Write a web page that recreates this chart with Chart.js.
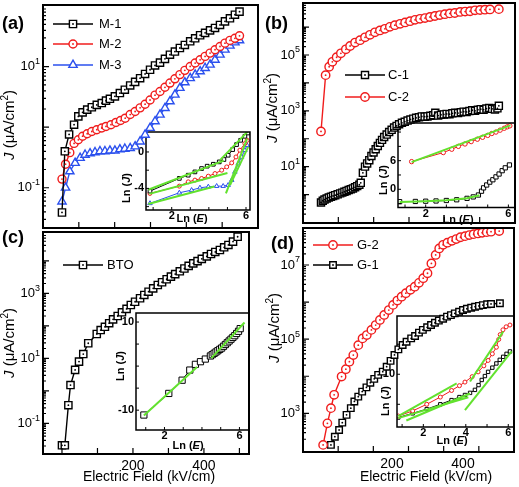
<!DOCTYPE html>
<html>
<head>
<meta charset="utf-8">
<script src="https://cdn.jsdelivr.net/npm/chart.js@4/dist/chart.umd.min.js"></script>
<style>
  html, body { margin: 0; padding: 0; background: #fff; }
  body { position: relative; width: 519px; height: 487px; overflow: hidden; }
  canvas { position: absolute; left: -20px; top: -20px; }
</style>
</head>
<body>
<script>
// ---------- panel (a) : J vs E, M-1 / M-2 / M-3 ----------
const fieldM1 = [0,8,20,34,46,58,71,84,98,112,124,135,149,163,177,192,206,220,234,248,262,276,290,304,318,332,346,361,375,389,403,417,431,445,459,473,487,500];
const jM1 = [0.039,0.40,0.76,1.10,1.51,1.76,1.95,2.14,2.34,2.51,2.75,2.95,3.24,3.67,4.17,4.90,5.62,6.46,7.59,8.91,10.5,11.7,13.5,15.8,17.8,20.4,22.9,26.3,29.5,33.1,36.3,39.8,43.7,49.0,56.2,63.1,72.4,81.3];
const fieldM2 = [0,10,22,34,46,58,71,84,98,112,124,138,152,165,178,192,206,220,234,248,262,276,290,304,318,332,346,361,375,389,403,417,431,445,459,473,487,500];
const jM2 = [0.139,0.245,0.38,0.54,0.62,0.71,0.78,0.85,0.91,0.97,1.03,1.10,1.20,1.29,1.41,1.62,1.82,2.09,2.40,2.82,3.39,3.89,4.57,5.37,6.31,7.41,8.71,10.1,11.5,13.0,14.8,16.8,19.1,21.6,24.5,27.2,29.5,32.4];
const fieldM3 = [0,10,22,37,51,65,79,93,107,121,135,149,163,177,192,206,220,234,248,262,276,290,304,318,332,346,361,375,389,403,417,431,445,459,473,487,500];
const jM3 = [0.059,0.10,0.186,0.257,0.31,0.35,0.37,0.385,0.40,0.40,0.41,0.41,0.43,0.44,0.45,0.48,0.58,0.75,0.97,1.25,1.61,2.07,2.67,3.45,4.46,5.50,6.46,7.36,8.37,9.5,10.8,13.0,15.8,19.1,22.2,25.2,27.2];

// ---------- panel (b) : C-1 / C-2 ----------
const fieldC1 = [0,5,10,16,22,28,34,40,47,54,60,66,72,78,84,90,96,102,108,112,118,124,130,136,142,148,154,160,166,172,178,185,192,199,206,213,220,228,236,244,252,260,268,276,284,292,300,308,316,322,330,338,346,354,362,370,378,386,394,402,410,418,426,434,442,450,458,466,474,482,490,497,501];
const jC1 = [0.52,0.60,0.66,0.72,0.78,0.83,0.89,0.95,1.02,1.10,1.17,1.26,1.35,1.45,1.55,1.66,1.82,2.0,2.24,2.63,6.0,10,13,17,24,32,42,55,71,91,115,141,174,209,251,288,331,372,407,447,490,525,562,589,631,617,631,661,692,851,676,724,741,776,759,813,851,832,891,933,912,977,1047,1000,1096,1148,1096,1202,1259,1175,1122,1230,1514];
const fieldC2 = [0,13,23,32,44,56,70,82,96,110,124,138,152,166,180,194,208,223,237,251,265,279,293,307,321,335,349,363,377,392,406,420,434,448,462,476,501];
const jC2 = [182,1.9e4,3.8e4,5.7e4,8.3e4,1.15e5,1.6e5,2.1e5,2.8e5,3.4e5,4.3e5,5.3e5,6.5e5,7.6e5,8.7e5,1.02e6,1.17e6,1.31e6,1.47e6,1.63e6,1.82e6,1.98e6,2.1e6,2.3e6,2.5e6,2.7e6,2.9e6,3.1e6,3.2e6,3.5e6,3.6e6,3.7e6,4.0e6,4.1e6,4.2e6,4.3e6,4.4e6];

// ---------- panel (c) : BTO ----------
const fieldBTO = [0,8,18,24,37,48,60,74,98,109,121,133,144,157,169,182,194,206,220,232,244,257,270,282,295,307,319,332,345,357,370,382,394,408,420,432,445,457,469,482,495];
const jBTO = [0.021,0.021,0.36,1.5,4.4,7.9,13.5,29,56,74,93,120,158,200,260,331,437,550,705,890,1120,1420,1800,2190,2700,3250,3900,4750,5800,6950,8350,9800,11500,13700,16200,18700,21500,26000,30700,39000,55000];

// ---------- panel (d) : G-1 / G-2 ----------
const fieldG2 = [6,18,28,37,58,70,80,91,105,117,129,142,154,166,178,191,203,215,227,239,252,264,276,288,300,311,323,333,344,356,369,381,393,406,418,430,442,454,467,479,502];
const jG2 = [141,537,1380,3160,9800,15500,24700,37200,69000,105000,129000,178000,240000,330000,450000,610000,840000,1.1e6,1.4e6,1.74e6,2.14e6,2.6e6,3.3e6,4.4e6,6.0e6,1.1e7,1.87e7,2.8e7,3.5e7,4.0e7,4.5e7,5.0e7,5.6e7,6.0e7,6.4e7,6.8e7,7.1e7,7.4e7,7.7e7,7.9e7,8.2e7];
const fieldG1 = [28,39,51,60,72,84,94,105,116,128,139,150,161,174,185,196,207,218,230,241,254,265,276,287,299,310,321,332,344,355,366,377,389,400,411,423,434,445,456,468,479,504];
const jG1 = [141,234,355,560,910,1380,2090,2820,3850,5000,6700,8500,10900,13300,18100,25900,37500,53000,69600,85000,105000,122000,150000,178000,209000,241000,277000,316000,356000,406000,446000,497000,550000,610000,660000,705000,750000,790000,830000,870000,890000,930000];

// ---------- insets : Ln(J) vs Ln(E) ----------
const lnE_M1 = [0.83,2.41,2.89,3.25,3.61,3.91,4.24,4.56,4.81,5.04,5.28,5.49,5.71,5.94,6.12];
const lnJ_M1 = [-4.3,-2.9,-2.55,-2.19,-1.82,-1.56,-1.35,-1.09,-0.83,-0.36,0.26,0.81,1.28,1.72,2.08];
const lnE_M2 = [0.83,2.41,2.89,3.25,3.61,3.97,4.33,4.69,4.96,5.23,5.46,5.67,5.94,6.06];
const lnJ_M2 = [-4.55,-3.75,-3.28,-3.09,-2.91,-2.66,-2.37,-2.0,-1.64,-1.2,-0.55,0.19,0.92,1.28];
const lnE_M3 = [0.83,2.41,3.07,3.52,3.97,4.42,4.77,5.04,5.23,5.40,5.58,5.76,5.94,6.06];
const lnJ_M3 = [-5.64,-4.48,-4.19,-3.93,-3.82,-3.75,-3.75,-3.64,-3.09,-2.19,-1.28,-0.55,0.19,0.73];
const fitsA = [
  [[0.74,-4.15],[4.8,-0.95]],
  [[0.8,-4.6],[5.0,-2.3]],
  [[0.74,-5.72],[4.3,-3.8]],
  [[4.6,-0.9],[6.12,2.3]],
  [[4.92,-4.55],[6.06,1.46]],
  [[5.14,-3.64],[6.12,0.55]]
];

const lnE_C2 = [1.32,2.85,3.26,3.58,3.9,4.2,4.5,4.75,5.0,5.2,5.4,5.6,5.8,5.95,6.07];
const lnJ_C2 = [5.8,7.7,8.4,9.0,9.5,10.0,10.5,10.9,11.3,11.7,12.0,12.4,12.8,13.1,13.3];
const lnE_C1 = [0.74,1.5,2.0,2.5,3.0,3.5,4.0,4.3,4.55,4.7,4.8,4.95,5.1,5.25,5.4,5.55,5.7,5.85,6.05];
const lnJ_C1 = [-2.6,-2.55,-2.5,-2.45,-2.35,-2.2,-1.9,-1.6,-1.2,-0.4,0.3,0.9,1.5,2.0,2.6,3.2,3.9,4.5,5.1];
const fitsB = [
  [[1.32,5.7],[6.1,13.4]],
  [[0.74,-2.65],[2,-2.5],[3,-2.3],[4,-1.9],[4.6,-1.25]]
];

const lnE_BTO = [0.9,2.23,2.94,3.35,3.65,3.92,4.18,4.45,4.55,4.65,4.75,4.85,4.95,5.05,5.15,5.25,5.35,5.45,5.55,5.65,5.75,5.85,5.95,6.04];
const lnJ_BTO = [-11.1,-6.2,-3.2,-0.9,0.4,1.0,1.6,2.3,2.6,2.9,3.2,3.5,3.8,4.1,4.5,4.9,5.3,5.7,6.1,6.5,6.9,7.4,7.9,8.5];
const fitsC = [
  [[0.9,-11.2],[3.74,-0.2]],
  [[4.5,1.8],[6.27,9.9]]
];

const lnE_G2 = [0.82,1.5,2.16,2.8,3.33,3.7,3.96,4.3,4.58,4.85,5.05,5.25,5.44,5.55,5.62,5.75,5.9,6.08];
const lnJ_G2 = [3.05,3.9,5.0,6.2,7.3,8.1,8.7,9.6,10.4,11.4,12.3,13.4,14.5,15.8,16.6,17.4,17.9,18.2];
const lnE_G1 = [0.82,1.5,2.16,2.8,3.33,3.7,3.96,4.2,4.43,4.6,4.75,4.9,5.05,5.25,5.44,5.6,5.76,5.92,6.08];
const lnJ_G1 = [2.8,3.5,4.2,5.0,5.7,6.2,6.55,6.9,7.4,8.2,9.05,9.7,10.4,11.1,11.8,12.4,12.9,13.4,13.8];
const fitsD = [
  [[0.82,3.05],[3.57,8.5]],
  [[4.2,8.8],[5.76,17.1]],
  [[0.82,2.7],[4.12,6.17]],
  [[1.2,2.3],[4.2,6.8]],
  [[3.96,4.05],[6.16,13.8]]
];

// tick labels
const fieldLabels = [200, 400];
const lnELabels = [2, 6];
const lnELabelsD = [2, 4, 6];

// ---------- drawing setup ----------
const OFF = 20, CW = 559, CH = 527;
const FAM = '"Liberation Sans", Arial, Helvetica, sans-serif';
const font = (size, style) => (style || '') + ' ' + size + 'px ' + FAM;
const BLACK = '#000000', RED = '#f01c1c', BLUE = '#2b50ee', GREEN = '#62e22e';

function drawParts(ctx, parts, x, y, align) {
  ctx.textBaseline = 'middle';
  ctx.textAlign = 'left';
  let w = 0;
  parts.forEach(p => { ctx.font = p[1]; w += ctx.measureText(p[0]).width; });
  let cx = align === 'center' ? x - w / 2 : (align === 'right' ? x - w : x);
  parts.forEach(p => {
    ctx.font = p[1];
    ctx.fillText(p[0], cx, y + (p[2] || 0));
    cx += ctx.measureText(p[0]).width;
  });
}

function drawMarker(ctx, style, x, y, r, color, lw, dot) {
  ctx.save();
  ctx.lineWidth = lw;
  ctx.strokeStyle = color;
  ctx.fillStyle = '#fff';
  ctx.beginPath();
  if (style === 'rect') {
    const s = r * Math.SQRT1_2;
    ctx.rect(x - s, y - s, 2 * s, 2 * s);
  } else if (style === 'triangle') {
    let a = 0;
    ctx.moveTo(x + Math.sin(a) * r, y - Math.cos(a) * r);
    a += Math.PI * 2 / 3;
    ctx.lineTo(x + Math.sin(a) * r, y - Math.cos(a) * r);
    a += Math.PI * 2 / 3;
    ctx.lineTo(x + Math.sin(a) * r, y - Math.cos(a) * r);
    ctx.closePath();
  } else {
    ctx.arc(x, y, r, 0, Math.PI * 2);
  }
  ctx.fill();
  ctx.stroke();
  if (dot) {
    ctx.fillStyle = color;
    ctx.beginPath();
    ctx.arc(x, y, dot, 0, Math.PI * 2);
    ctx.fill();
  }
  ctx.restore();
}

const deco = {
  id: 'deco',
  beforeDraw(chart, args, o) {
    if (!o.fill) return;
    const a = chart.chartArea, ctx = chart.ctx;
    ctx.save();
    ctx.fillStyle = '#fff';
    ctx.fillRect(a.left, a.top, a.right - a.left, a.bottom - a.top);
    ctx.restore();
  },
  afterDatasetsDraw(chart) {
    const ctx = chart.ctx, a = chart.chartArea;
    ctx.save();
    ctx.beginPath();
    ctx.rect(a.left, a.top, a.right - a.left, a.bottom - a.top);
    ctx.clip();
    chart.data.datasets.forEach((ds, i) => {
      if (!ds.dot) return;
      ctx.fillStyle = ds.borderColor;
      chart.getDatasetMeta(i).data.forEach(pt => {
        ctx.beginPath();
        ctx.arc(pt.x, pt.y, ds.dot, 0, Math.PI * 2);
        ctx.fill();
      });
    });
    ctx.restore();
  },
  afterDraw(chart, args, o) {
    const ctx = chart.ctx, a = chart.chartArea;
    const xs = chart.scales.x, ys = chart.scales.y;
    ctx.save();
    ctx.strokeStyle = BLACK;
    ctx.lineWidth = o.tickWidth;
    ctx.beginPath();
    xs.ticks.forEach(t => {
      const px = xs.getPixelForValue(t.value);
      if (px < a.left + 2 || px > a.right - 2) return;
      ctx.moveTo(px, a.bottom);
      ctx.lineTo(px, a.bottom - o.tickLen);
    });
    ys.ticks.forEach(t => {
      let len = o.tickLen;
      if (ys.type === 'logarithmic') {
        const e = Math.floor(Math.log10(t.value) + 1e-9);
        const m = t.value / Math.pow(10, e);
        const mr = Math.round(m);
        if (Math.abs(m - mr) > 1e-6 || mr > 9) return;
        len = mr === 1 ? o.tickLen : o.minorLen;
      }
      const py = ys.getPixelForValue(t.value);
      if (py < a.top + 2 || py > a.bottom - 2) return;
      ctx.moveTo(a.left, py);
      ctx.lineTo(a.left + len, py);
    });
    ctx.stroke();
    ctx.lineWidth = o.frame;
    ctx.strokeRect(a.left, a.top, a.right - a.left, a.bottom - a.top);
    ctx.fillStyle = BLACK;

    // main panels: log labels 10^n and field labels
    (o.yExp || []).forEach(e => {
      const py = ys.getPixelForValue(Math.pow(10, e));
      drawParts(ctx, [['10', font(13)], [String(e), font(9), -5]], a.left - 3, py, 'right');
    });
    (o.xLabels || []).forEach(v => {
      drawParts(ctx, [[String(v), font(14)]], xs.getPixelForValue(v), a.bottom + 12, 'center');
    });
    // insets: small bold labels
    (o.xLab || []).forEach(v => {
      drawParts(ctx, [[String(v), font(11, 'bold')]], xs.getPixelForValue(v), a.bottom + 6, 'center');
    });
    (o.yLab || []).forEach(v => {
      drawParts(ctx, [[String(v), font(11, 'bold')]], a.left - 2, ys.getPixelForValue(v), 'right');
    });

    if (o.yTitle) {
      ctx.save();
      ctx.translate(o.yTitle.x + OFF, o.yTitle.y + OFF);
      ctx.rotate(-Math.PI / 2);
      drawParts(ctx, [['J', font(15, 'italic')], [' (\u03bcA/cm', font(15)], ['2', font(10), -5], [')', font(15)]], 0, 0, 'center');
      ctx.restore();
    }
    if (o.xTitle) {
      drawParts(ctx, [['Electric Field (kV/cm)', font(14)]], o.xTitle.x + OFF, o.xTitle.y + OFF, 'center');
    }
    if (o.panel) {
      drawParts(ctx, [[o.panel.t, font(18, 'bold')]], o.panel.x + OFF, o.panel.y + OFF, 'left');
    }
    if (o.legend) {
      const L = o.legend;
      L.items.forEach(it => {
        const ds = chart.data.datasets[it.ds];
        const y = it.y + OFF;
        ctx.strokeStyle = ds.borderColor;
        ctx.lineWidth = ds.borderWidth;
        ctx.beginPath();
        ctx.moveTo(L.x1 + OFF, y);
        ctx.lineTo(L.x2 + OFF, y);
        ctx.stroke();
        drawMarker(ctx, ds.pointStyle, (L.x1 + L.x2) / 2 + OFF, y, ds.pointRadius, ds.borderColor, ds.pointBorderWidth, ds.dot);
        ctx.fillStyle = BLACK;
        drawParts(ctx, [[it.label, font(13)]], L.tx + OFF, y, 'left');
      });
    }
    if (o.lnTitles) {
      const B = font(11, 'bold'), BI = font(11, 'bold italic');
      const t = o.lnTitles;
      drawParts(ctx, [['Ln (', B], ['E', BI], [')', B]], t.ex + OFF, t.ey + OFF, 'center');
      ctx.save();
      ctx.translate(t.jx + OFF, t.jy + OFF);
      ctx.rotate(-Math.PI / 2);
      drawParts(ctx, [['Ln (', B], ['J', BI], [')', B]], 0, 0, 'center');
      ctx.restore();
    }
    ctx.restore();
  }
};

function pts(xs, ys) { return xs.map((x, i) => ({ x: x, y: ys[i] })); }
function series(xs, ys, color, style, r, lw, dot) {
  return {
    data: pts(xs, ys), borderColor: color, backgroundColor: color, borderWidth: lw,
    pointStyle: style, pointRadius: r, pointBorderColor: color, pointBackgroundColor: '#fff',
    pointBorderWidth: lw, dot: dot, tension: 0, fill: false
  };
}
function fitSets(list) {
  return list.map(f => ({
    data: f.map(p => ({ x: p[0], y: p[1] })), borderColor: GREEN, borderWidth: 2,
    pointRadius: 0, tension: 0, fill: false
  }));
}

function makeChart(box, xr, yr, log, xStep, yStep, datasets, decoOpts) {
  const c = document.createElement('canvas');
  c.width = CW; c.height = CH;
  document.body.appendChild(c);
  return new Chart(c.getContext('2d'), {
    type: 'line',
    data: { datasets: datasets },
    options: {
      responsive: false, animation: false, devicePixelRatio: 1, events: [],
      layout: { padding: { left: 0, bottom: 0, top: box.t + OFF, right: CW - box.r - OFF } },
      plugins: { legend: { display: false }, tooltip: { enabled: false }, deco: decoOpts },
      scales: {
        x: {
          type: 'linear', min: xr[0], max: xr[1],
          grid: { display: false, drawTicks: false }, border: { display: false },
          ticks: { display: false, stepSize: xStep, includeBounds: false },
          afterFit: s => { s.height = CH - box.b - OFF; }
        },
        y: {
          type: log ? 'logarithmic' : 'linear', min: yr[0], max: yr[1],
          grid: { display: false, drawTicks: false }, border: { display: false },
          ticks: log ? { display: false } : { display: false, stepSize: yStep, includeBounds: false },
          afterFit: s => { s.width = box.l + OFF; }
        }
      }
    },
    plugins: [deco]
  });
}

const mainDeco = extra => Object.assign({ frame: 2, tickLen: 6, minorLen: 3, tickWidth: 1.2 }, extra);
const insetDeco = extra => Object.assign({ fill: true, frame: 1.5, tickLen: 3, minorLen: 2, tickWidth: 1 }, extra);

// insets first (underneath), main panels on top
makeChart({ l: 146, t: 132, r: 250, b: 210 }, [0.616, 6.215], [-6.37, 2.19], false, 1, 2,
  fitSets(fitsA).concat([
    series(lnE_M1, lnJ_M1, BLACK, 'rect', 2.6, 1, 0),
    series(lnE_M2, lnJ_M2, RED, 'circle', 2, 1, 0),
    series(lnE_M3, lnJ_M3, BLUE, 'triangle', 2.6, 1, 0)
  ]),
  insetDeco({ xLab: lnELabels, yLab: [0, -4], lnTitles: { ex: 192, ey: 219, jx: 127, jy: 188 } }));

makeChart({ l: 398, t: 123, r: 515, b: 207.5 }, [0.66, 6.32], [-3.82, 13.9], false, 1, 3,
  fitSets(fitsB).concat([
    series(lnE_C1, lnJ_C1, BLACK, 'rect', 3, 1, 0),
    series(lnE_C2, lnJ_C2, RED, 'circle', 2.2, 1, 0)
  ]),
  insetDeco({ xLab: lnELabels, yLab: [0, 6], lnTitles: { ex: 458, ey: 220, jx: 384, jy: 180 } }));

makeChart({ l: 136, t: 313, r: 249, b: 430 }, [0.48, 6.51], [-14.5, 12.05], false, 1, 5,
  fitSets(fitsC).concat([
    series(lnE_BTO, lnJ_BTO, BLACK, 'rect', 4.4, 1, 0)
  ]),
  insetDeco({ xLab: lnELabels, yLab: [10, -10], lnTitles: { ex: 188, ey: 446, jx: 121, jy: 366 } }));

makeChart({ l: 397, t: 316, r: 514, b: 427 }, [0.76, 6.27], [1.22, 19.7], false, 1, 5,
  fitSets(fitsD).concat([
    series(lnE_G2, lnJ_G2, RED, 'circle', 2, 1, 0),
    series(lnE_G1, lnJ_G1, BLACK, 'rect', 2.4, 1, 0)
  ]),
  insetDeco({ xLab: lnELabelsD, yLab: [10], lnTitles: { ex: 452, ey: 441, jx: 386, jy: 401 } }));

makeChart({ l: 43, t: 5, r: 258, b: 228 }, [-53.5, 552], [0.0216, 104.7], true, 100, 0,
  [
    series(fieldM1, jM1, BLACK, 'rect', 5.1, 1.4, 0.9),
    series(fieldM2, jM2, RED, 'circle', 4, 1.4, 0.9),
    series(fieldM3, jM3, BLUE, 'triangle', 4.8, 1.4, 0)
  ],
  mainDeco({
    yExp: [-1, 1], yTitle: { x: 10, y: 125 }, panel: { t: '(a)', x: 2, y: 24 },
    legend: { x1: 53, x2: 93, tx: 99, items: [
      { ds: 0, label: 'M-1', y: 24 }, { ds: 1, label: 'M-2', y: 44 }, { ds: 2, label: 'M-3', y: 65 }] }
  }));

makeChart({ l: 303, t: 3, r: 515, b: 223 }, [-50.7, 546.5], [0.0955, 7.31e6], true, 100, 0,
  [
    series(fieldC1, jC1, BLACK, 'rect', 5, 1.4, 0.9),
    series(fieldC2, jC2, RED, 'circle', 4.2, 1.4, 0.9)
  ],
  mainDeco({
    yExp: [1, 3, 5], yTitle: { x: 273, y: 108 }, panel: { t: '(b)', x: 265, y: 24 },
    legend: { x1: 345, x2: 385, tx: 388, items: [
      { ds: 0, label: 'C-1', y: 75 }, { ds: 1, label: 'C-2', y: 97 }] }
  }));

makeChart({ l: 43, t: 232, r: 249, b: 454 }, [-53.5, 527], [0.01135, 76900], true, 100, 0,
  [series(fieldBTO, jBTO, BLACK, 'rect', 5.1, 1.4, 0.9)],
  mainDeco({
    yExp: [-1, 1, 3], xLabels: fieldLabels, yTitle: { x: 10, y: 343 }, xTitle: { x: 149, y: 477 },
    panel: { t: '(c)', x: 2, y: 238 },
    legend: { x1: 63, x2: 103, tx: 107, items: [{ ds: 0, label: 'BTO', y: 265 }] }
  }));

makeChart({ l: 303, t: 228, r: 514, b: 452 }, [-50.7, 543.7], [90.6, 9.95e7], true, 100, 0,
  [
    series(fieldG2, jG2, RED, 'circle', 4.2, 1.4, 0.9),
    series(fieldG1, jG1, BLACK, 'rect', 4.6, 1.4, 0.9)
  ],
  mainDeco({
    yExp: [3, 5, 7], xLabels: fieldLabels, yTitle: { x: 275, y: 328 }, xTitle: { x: 426, y: 477 },
    panel: { t: '(d)', x: 271, y: 244 },
    legend: { x1: 313, x2: 353, tx: 357, items: [
      { ds: 0, label: 'G-2', y: 245 }, { ds: 1, label: 'G-1', y: 265 }] }
  }));
</script>
</body>
</html>
